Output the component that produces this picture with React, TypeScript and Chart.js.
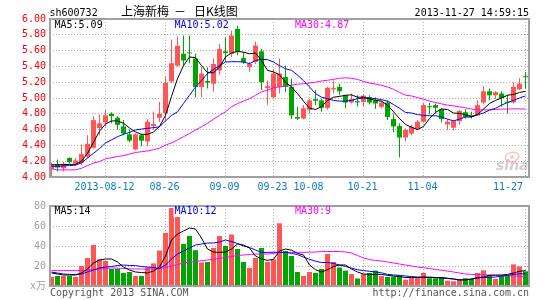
import React, { useEffect, useRef } from 'react';
import { Chart, registerables } from 'chart.js';

Chart.register(...registerables);

// ---------- data ----------
const stockCode = 'sh600732';
const stockName = '上海新梅';
const chartKind = '日K线图';
const timestamp = '2013-11-27 14:59:15';

const tickIndex = [9, 19, 29, 37, 43, 52, 62, 79];
const tickLabels = ['2013-08-12', '08-26', '09-09', '09-23', '10-08', '10-21', '11-04', '11-27'];
const priceTicks = [4.0, 4.2, 4.4, 4.6, 4.8, 5.0, 5.2, 5.4, 5.6, 5.8, 6.0];
const volumeTicks = [0, 20, 40, 60, 80];

const openP = [4.10, 4.16, 4.11, 4.24, 4.17, 4.18, 4.26, 4.37, 4.62, 4.69,
  4.80, 4.75, 4.64, 4.54, 4.35, 4.53, 4.45, 4.645, 4.75, 4.81,
  5.21, 5.41, 5.56, 5.575, 5.50, 5.14, 5.215, 5.18, 5.35, 5.59,
  5.56, 5.875, 5.505, 5.39, 5.455, 5.59, 5.127, 5.01, 5.14, 5.265,
  5.14, 4.76, 4.74, 4.85, 4.985, 4.97, 4.876, 5.11, 5.14, 5.035,
  4.943, 4.96, 4.95, 5.01, 4.97, 4.888, 4.943, 4.733, 4.645, 4.50,
  4.55, 4.61, 4.70, 4.887, 4.91, 4.855, 4.666, 4.624, 4.707, 4.82,
  4.777, 4.78, 4.943, 5.085, 5.035, 5.056, 4.945, 4.943, 5.11, 5.267];
const highP = [4.18, 4.22, 4.19, 4.25, 4.24, 4.41, 4.53, 4.77, 4.79, 4.85,
  4.82, 4.77, 4.72, 4.60, 4.55, 4.55, 4.73, 4.83, 4.95, 5.27,
  5.74, 5.78, 5.79, 5.79, 5.56, 5.39, 5.39, 5.50, 5.685, 5.77,
  5.85, 5.915, 5.58, 5.455, 5.715, 5.62, 5.22, 5.37, 5.50, 5.41,
  5.245, 4.89, 4.91, 4.99, 5.10, 4.99, 5.14, 5.22, 5.18, 5.035,
  5.056, 5.035, 5.04, 5.035, 5.01, 4.97, 4.97, 4.805, 4.68, 4.616,
  4.66, 4.72, 4.94, 4.94, 4.93, 4.87, 4.733, 4.72, 4.85, 4.86,
  4.826, 4.97, 5.15, 5.12, 5.085, 5.085, 5.04, 5.20, 5.25, 5.33];
const lowP = [4.01, 4.07, 4.07, 4.17, 4.15, 4.15, 4.24, 4.36, 4.53, 4.64,
  4.68, 4.60, 4.53, 4.44, 4.34, 4.39, 4.39, 4.60, 4.70, 4.70,
  5.19, 5.40, 5.41, 5.44, 5.01, 5.01, 5.12, 5.08, 5.29, 5.455,
  5.52, 5.54, 5.43, 5.33, 5.43, 5.10, 4.91, 4.99, 5.056, 5.077,
  4.733, 4.72, 4.73, 4.80, 4.91, 4.826, 4.85, 5.056, 5.035, 4.87,
  4.93, 4.89, 4.90, 4.918, 4.86, 4.87, 4.72, 4.565, 4.247, 4.45,
  4.53, 4.595, 4.69, 4.79, 4.805, 4.69, 4.595, 4.59, 4.66, 4.74,
  4.74, 4.775, 4.918, 4.97, 4.99, 4.89, 4.805, 4.93, 5.10, 5.12];
const closeP = [4.16, 4.12, 4.17, 4.19, 4.21, 4.29, 4.42, 4.72, 4.68, 4.78,
  4.77, 4.66, 4.55, 4.46, 4.54, 4.46, 4.70, 4.67, 4.80, 5.19,
  5.44, 5.66, 5.475, 5.565, 5.14, 5.31, 5.195, 5.43, 5.62, 5.57,
  5.79, 5.58, 5.455, 5.43, 5.664, 5.20, 5.15, 5.31, 5.31, 5.14,
  4.78, 4.74, 4.87, 4.97, 4.965, 4.876, 5.13, 5.125, 5.085, 4.943,
  4.985, 4.945, 5.03, 4.943, 4.93, 4.943, 4.76, 4.64, 4.50, 4.595,
  4.636, 4.70, 4.91, 4.883, 4.876, 4.733, 4.70, 4.707, 4.835, 4.76,
  4.773, 4.91, 5.085, 5.035, 5.075, 5.00, 4.941, 5.14, 5.18, 5.263];

const ma5 = [4.155, 4.155, 4.155, 4.16, 4.16, 4.20, 4.30, 4.44, 4.58, 4.67,
  4.71, 4.71, 4.68, 4.62, 4.57, 4.54, 4.54, 4.57, 4.64, 4.78,
  5.02, 5.245, 5.41, 5.52, 5.51, 5.41, 5.32, 5.32, 5.39, 5.52,
  5.57, 5.59, 5.58, 5.56, 5.57, 5.475, 5.35, 5.33, 5.295, 5.20,
  5.14, 5.056, 4.96, 4.87, 4.855, 4.89, 4.97, 5.01, 5.02, 5.035,
  5.04, 5.01, 5.01, 4.99, 4.97, 4.96, 4.91, 4.826, 4.74, 4.666,
  4.63, 4.60, 4.64, 4.74, 4.817, 4.86, 4.855, 4.81, 4.805, 4.79,
  4.76, 4.79, 4.86, 4.93, 4.97, 5.00, 5.035, 5.045, 5.07, 5.085];
const ma10 = [4.135, 4.135, 4.14, 4.145, 4.15, 4.18, 4.24, 4.30, 4.36, 4.43,
  4.47, 4.51, 4.54, 4.565, 4.595, 4.607, 4.616, 4.625, 4.636, 4.71,
  4.78, 4.825, 4.93, 5.035, 5.14, 5.22, 5.31, 5.36, 5.41, 5.455,
  5.46, 5.46, 5.455, 5.435, 5.475, 5.49, 5.485, 5.455, 5.41, 5.37,
  5.35, 5.29, 5.22, 5.14, 5.056, 5.01, 4.99, 4.97, 4.96, 4.96,
  4.97, 4.99, 5.00, 5.00, 4.99, 4.98, 4.96, 4.918, 4.87, 4.817,
  4.81, 4.79, 4.78, 4.775, 4.775, 4.76, 4.733, 4.71, 4.733, 4.76,
  4.76, 4.79, 4.81, 4.847, 4.87, 4.91, 4.943, 4.97, 5.00, 5.026];
const ma30 = [4.105, 4.09, 4.09, 4.09, 4.09, 4.11, 4.145, 4.175, 4.195, 4.23,
  4.245, 4.26, 4.27, 4.29, 4.31, 4.32, 4.33, 4.345, 4.365, 4.405,
  4.43, 4.47, 4.51, 4.55, 4.595, 4.636, 4.68, 4.733, 4.78, 4.826,
  4.89, 4.93, 4.96, 4.99, 5.035, 5.077, 5.10, 5.13, 5.14, 5.15,
  5.16, 5.175, 5.18, 5.19, 5.20, 5.215, 5.225, 5.235, 5.25, 5.255,
  5.25, 5.235, 5.21, 5.19, 5.177, 5.16, 5.14, 5.11, 5.07, 5.035,
  5.026, 5.005, 4.985, 4.96, 4.943, 4.926, 4.91, 4.90, 4.888, 4.876,
  4.86, 4.85, 4.85, 4.85, 4.855, 4.86, 4.86, 4.863, 4.863, 4.86];

const volume = [9, 10, 10, 10, 9, 20, 28, 41, 26.7, 25,
  17, 17, 13, 14, 10, 10, 18.5, 22.6, 35.5, 53,
  78, 70.6, 42, 50, 35.8, 23.5, 24, 38, 50, 40,
  51.5, 37, 24, 18, 28, 38, 24, 26.7, 62.7, 35,
  30, 14, 10, 14, 13, 17, 32, 24, 18.5, 15.4,
  12, 7.5, 12, 13, 15.4, 10, 9, 9.4, 10.7, 6.3,
  8.5, 9, 13, 7.8, 7.8, 8.5, 5.3, 4.7, 6.3, 7.8,
  7, 13, 15.7, 11, 7, 10.7, 11, 21.6, 19.5, 14.7];
const volMa5 = [13, 12, 11, 11, 11, 13, 17, 23, 26, 27,
  27, 24, 19, 16, 14, 13.5, 13, 15, 19, 30,
  46, 52, 55, 58, 57, 48, 37, 34, 33.6, 34,
  37, 42, 41, 38, 30, 27, 25.7, 26.7, 35, 37,
  35.8, 32.6, 31, 21, 16.3, 14, 16.3, 19.5, 21, 21,
  17, 14, 12, 11.6, 11.6, 11.6, 10.7, 10, 9.4, 8.5,
  8.5, 8.5, 8.5, 8.5, 8.5, 8.5, 7.8, 7, 6, 6,
  7, 8.5, 9, 10.7, 11, 11, 11.6, 13, 14.7, 15.4];
const volMa10 = [14, 13, 12, 11.6, 11.6, 12, 14, 16, 18, 19,
  19.5, 20.5, 21, 20.5, 20.4, 19.5, 19, 18.5, 17.5, 21,
  27, 32, 35, 38, 41, 42, 43, 43, 44, 46,
  44.5, 42.5, 40, 38.5, 36, 33.6, 33.6, 33.8, 33.6, 33.6,
  32.6, 31.4, 28.9, 26.7, 24.8, 23.5, 23.5, 22.6, 21, 19.5,
  17.9, 16.3, 15.4, 14.7, 14, 13.2, 11.6, 11, 10.7, 10,
  9.4, 9, 9, 9, 8.5, 7.8, 7.5, 7, 6.3, 6.3,
  7, 7.8, 8.5, 8.5, 9, 10, 10.7, 11.6, 12.2, 12.2];
const volMa30 = [15.4, 15.4, 15.4, 15.4, 15.4, 15.5, 16, 16.5, 17, 17.5,
  18, 17.8, 17.5, 17.2, 17, 17, 17, 17, 17.5, 18.5,
  20, 21.5, 23, 24, 24.5, 25.3, 26, 26.7, 27.5, 28.5,
  29.5, 30.5, 31, 31.5, 32, 32, 32, 32.5, 33.6, 33.6,
  33.6, 33.6, 33.6, 33.8, 34, 34.5, 34.5, 34.5, 34.5, 34,
  33, 30.5, 28, 26.5, 25.5, 25, 24, 23, 22, 21,
  20, 19, 18.3, 17.5, 16.5, 15.8, 15, 14, 13, 12,
  11.6, 11.4, 11.2, 11, 10.5, 10, 10, 10, 10, 9];

const priceMaLast = [5.09, 5.02, 4.87];
const volumeMaLast = [14, 12, 9];

// ---------- styles ----------
const MONO = '"DejaVu Sans Mono", "Noto Sans CJK SC", monospace';
const RED = '#ff5555';
const GREEN = '#00a600';
const GRID = '#b0b0b0';
const BOX = '#a0a0a0';
const MA_COLORS = ['#000000', '#0000ff', '#ff00ff'];
const LEGEND_X = [54.5, 174.5, 295];

const candleColors = openP.map((o, i) => (closeP[i] >= o ? RED : GREEN));
const X_MIN = -0.25;
const X_MAX = openP.length - 1 + 0.5833;

function drawBox(ctx: CanvasRenderingContext2D, a: any) {
  ctx.save();
  ctx.strokeStyle = BOX;
  ctx.lineWidth = 2;
  ctx.strokeRect(a.left, a.top, a.right - a.left, a.bottom - a.top);
  ctx.restore();
}

function drawLegend(ctx: CanvasRenderingContext2D, texts: string[], top: number, baseline: number) {
  ctx.save();
  ctx.font = `10px ${MONO}`;
  ctx.textAlign = 'left';
  ctx.textBaseline = 'alphabetic';
  texts.forEach((t, k) => {
    const w = ctx.measureText(t).width;
    ctx.fillStyle = '#ffffff';
    ctx.fillRect(LEGEND_X[k] - 1, top, w + 2, 10);
    ctx.fillStyle = MA_COLORS[k];
    ctx.fillText(t, LEGEND_X[k], baseline);
  });
  ctx.restore();
}

const mainPlugin = {
  id: 'mainDecor',
  beforeDatasetsDraw(chart: any) {
    const ctx: CanvasRenderingContext2D = chart.ctx;
    ctx.save();
    ctx.fillStyle = 'rgba(150,150,150,0.45)';
    ctx.font = 'italic bold 14px "DejaVu Sans", sans-serif';
    ctx.fillText('sina', 496, 170);
    ctx.strokeStyle = 'rgba(235,130,130,0.45)';
    ctx.lineWidth = 1.5;
    ctx.beginPath();
    ctx.ellipse(512, 157, 7, 4.5, -0.2, 0, Math.PI * 2);
    ctx.stroke();
    ctx.fillStyle = 'rgba(235,130,130,0.45)';
    ctx.beginPath();
    ctx.arc(512, 157, 2, 0, Math.PI * 2);
    ctx.fill();
    ctx.restore();
  },
  afterDraw(chart: any) {
    const ctx: CanvasRenderingContext2D = chart.ctx;
    const a = chart.chartArea;
    drawBox(ctx, a);
    drawLegend(ctx, priceMaLast.map((v, k) => `MA${[5, 10, 30][k]}:${v.toFixed(2)}`), a.top + 1, a.top + 8.5);

    ctx.save();
    // header
    ctx.textBaseline = 'alphabetic';
    ctx.fillStyle = '#000';
    ctx.font = `10px ${MONO}`;
    ctx.textAlign = 'left';
    ctx.fillText(stockCode, 49.5, 15.5);
    ctx.textAlign = 'right';
    ctx.fillText(timestamp, a.right, 15.5);
    ctx.textAlign = 'left';
    ctx.font = '12px "Noto Sans CJK SC", sans-serif';
    ctx.fillText(stockName, 121, 16);
    ctx.fillText('－', 174, 16);
    ctx.fillText(chartKind, 194, 16);

    // x labels
    const xs = chart.scales.x;
    ctx.font = `10px ${MONO}`;
    ctx.fillStyle = '#1177cc';
    ctx.textAlign = 'left';
    tickLabels.forEach((t, k) => {
      const px = xs.getPixelForValue(tickIndex[k]) - 1;
      const w = ctx.measureText(t).width;
      let left = px - w / 2;
      if (left + w > a.right - 6) left = a.right - 6 - w;
      ctx.fillText(t, left, a.bottom + 12.5);
    });
    ctx.restore();
  },
};

const volumePlugin = {
  id: 'volDecor',
  afterDraw(chart: any) {
    const ctx: CanvasRenderingContext2D = chart.ctx;
    const a = chart.chartArea;
    drawBox(ctx, a);
    drawLegend(ctx, volumeMaLast.map((v, k) => `MA${[5, 10, 30][k]}:${v}`), a.top + 1, a.top + 7.5);
    ctx.save();
    ctx.font = `10px ${MONO}`;
    ctx.fillStyle = '#555555';
    ctx.textBaseline = 'alphabetic';
    ctx.textAlign = 'left';
    ctx.fillText('Copyright 2013 SINA.COM', 50, a.bottom + 9.7);
    ctx.textAlign = 'right';
    ctx.fillText('http://finance.sina.com.cn', a.right, a.bottom + 9.7);
    ctx.restore();
  },
};

function lineSet(values: number[], color: string, order: number) {
  return {
    type: 'line' as const,
    data: values.map((y, i) => ({ x: i, y })),
    borderColor: color,
    borderWidth: 1,
    pointRadius: 0,
    tension: 0,
    fill: false,
    order,
  };
}

function xScale() {
  return {
    type: 'linear' as const,
    min: X_MIN,
    max: X_MAX,
    offset: false,
    afterBuildTicks: (s: any) => { s.ticks = tickIndex.map((v) => ({ value: v })); },
    ticks: { display: false },
    grid: { color: GRID, drawTicks: false, offset: false, lineWidth: 1 },
    border: { display: false, dash: [1, 2] },
  };
}

export default function App() {
  const mainRef = useRef<HTMLCanvasElement>(null);
  const volRef = useRef<HTMLCanvasElement>(null);

  useEffect(() => {
    const main = new Chart(mainRef.current as HTMLCanvasElement, {
      type: 'bar',
      data: {
        datasets: [
          lineSet(ma5, MA_COLORS[0], 1),
          lineSet(ma10, MA_COLORS[1], 2),
          lineSet(ma30, MA_COLORS[2], 3),
          {
            type: 'bar',
            data: openP.map((o, i) => ({ x: i, y: [Math.min(o, closeP[i]), Math.max(o, closeP[i])] })),
            backgroundColor: candleColors,
            barThickness: 5,
            minBarLength: 1,
            grouped: false,
            inflateAmount: 0,
            borderWidth: 0,
            order: 4,
          },
          {
            type: 'bar',
            data: lowP.map((l, i) => ({ x: i, y: [l, highP[i]] })),
            backgroundColor: candleColors,
            barThickness: 1,
            grouped: false,
            inflateAmount: 0,
            borderWidth: 0,
            order: 5,
          },
        ] as any,
      },
      options: {
        animation: false,
        responsive: false,
        devicePixelRatio: 1,
        events: [],
        layout: { padding: { top: 19, right: 16, bottom: 19, left: 0 } },
        plugins: { legend: { display: false }, tooltip: { enabled: false } },
        scales: {
          x: xScale(),
          y: {
            type: 'linear',
            min: 4,
            max: 6,
            afterBuildTicks: (s: any) => { s.ticks = priceTicks.map((v) => ({ value: v })); },
            afterFit: (s: any) => { s.width = 50; },
            ticks: {
              color: '#ff0000',
              font: { family: MONO, size: 10 },
              padding: 4,
              autoSkip: false,
              callback: (v: any) => Number(v).toFixed(2),
            },
            grid: { color: GRID, drawTicks: false },
            border: { display: false, dash: [1, 2] },
          },
        } as any,
      },
      plugins: [mainPlugin],
    } as any);

    const vol = new Chart(volRef.current as HTMLCanvasElement, {
      type: 'bar',
      data: {
        datasets: [
          lineSet(volMa5, MA_COLORS[0], 1),
          lineSet(volMa10, MA_COLORS[1], 2),
          lineSet(volMa30, MA_COLORS[2], 3),
          {
            type: 'bar',
            data: volume.map((v, i) => ({ x: i, y: v })),
            backgroundColor: candleColors,
            barThickness: 5,
            grouped: false,
            inflateAmount: 0,
            borderWidth: 0,
            order: 4,
          },
        ] as any,
      },
      options: {
        animation: false,
        responsive: false,
        devicePixelRatio: 1,
        events: [],
        layout: { padding: { top: 6, right: 16, bottom: 14, left: 0 } },
        plugins: { legend: { display: false }, tooltip: { enabled: false } },
        scales: {
          x: xScale(),
          y: {
            type: 'linear',
            min: 0,
            max: 80,
            afterBuildTicks: (s: any) => { s.ticks = volumeTicks.map((v) => ({ value: v })); },
            afterFit: (s: any) => { s.width = 50; },
            ticks: {
              color: '#a0a0a0',
              font: { family: MONO, size: 10 },
              padding: 4,
              autoSkip: false,
              callback: (v: any) => (Number(v) === 0 ? 'x万' : String(v)),
            },
            grid: { color: GRID, drawTicks: false },
            border: { display: false, dash: [1, 2] },
          },
        } as any,
      },
      plugins: [volumePlugin],
    } as any);

    return () => {
      main.destroy();
      vol.destroy();
    };
  }, []);

  return (
    <div style={{ position: 'fixed', left: 0, top: 0, width: 545, height: 300, background: '#ffffff' }}>
      <canvas
        ref={mainRef}
        width={545}
        height={196}
        style={{ position: 'absolute', left: 0, top: 0, width: 545, height: 196 }}
      />
      <canvas
        ref={volRef}
        width={545}
        height={104}
        style={{ position: 'absolute', left: 0, top: 196, width: 545, height: 104 }}
      />
    </div>
  );
}
